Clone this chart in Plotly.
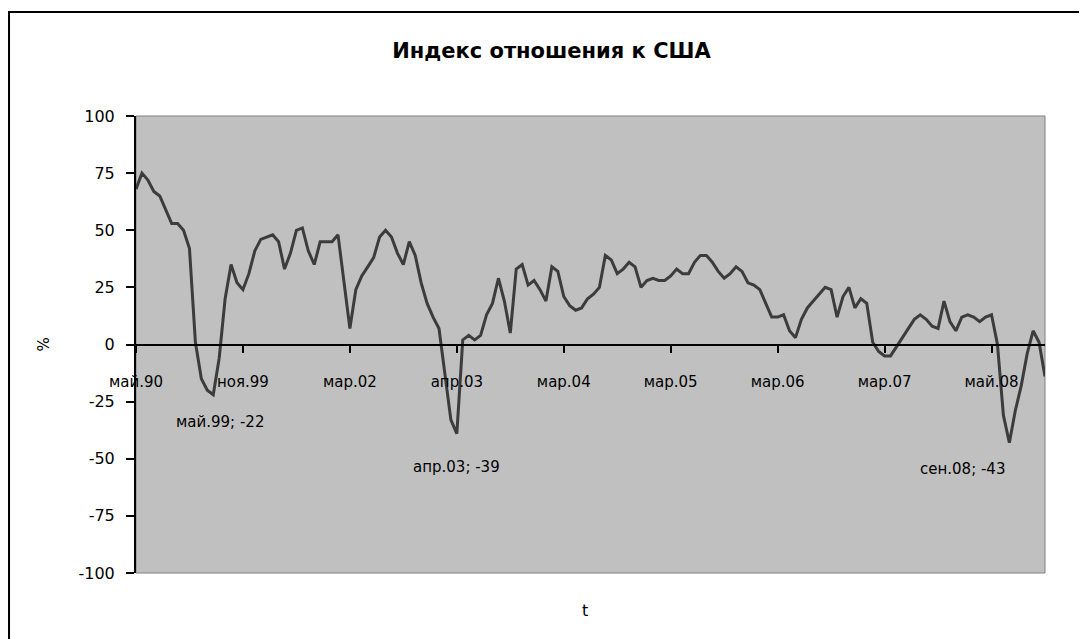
import plotly.graph_objects as go

# ---- data ----
values = [
    68, 75, 72, 67, 65, 59, 53, 53, 50, 42, 1, -15, -20, -22, -6, 20, 35, 27,
    24, 31, 41, 46, 47, 48, 45, 33, 40, 50, 51, 41, 35, 45, 45, 45, 48, 27,
    7, 24, 30, 34, 38, 47, 50, 47, 40, 35, 45, 39, 27, 18, 12, 7, -14, -33,
    -39, 2, 4, 2, 4, 13, 18, 29, 19, 5, 33, 35, 26, 28, 24, 19, 34, 32,
    21, 17, 15, 16, 20, 22, 25, 39, 37, 31, 33, 36, 34, 25, 28, 29, 28, 28,
    30, 33, 31, 31, 36, 39, 39, 36, 32, 29, 31, 34, 32, 27, 26, 24, 18, 12,
    12, 13, 6, 3, 11, 16, 19, 22, 25, 24, 12, 21, 25, 16, 20, 18, 1, -3,
    -5, -5, -1, 3, 7, 11, 13, 11, 8, 7, 19, 10, 6, 12, 13, 12, 10, 12,
    13, 0, -31, -43, -29, -18, -4, 6, 1, -14,
]
categories = list(range(len(values)))

tick_labels = ["май.90", "ноя.99", "мар.02", "апр.03", "мар.04",
               "мар.05", "мар.06", "мар.07", "май.08"]
tick_step = 18
tick_positions = [i * tick_step for i in range(len(tick_labels))]

y_tick_values = [-100, -75, -50, -25, 0, 25, 50, 75, 100]
y_tick_labels = ["-100", "-75", "-50", "-25", "0", "25", "50", "75", "100"]

label_names = ["май.99", "апр.03", "сен.08"]
label_index = [13, 54, 147]

title_text = "Индекс отношения к США"
y_title = "%"
x_title = "t"

# ---- styling ----
FONT = "DejaVu Sans"
LINE_COLOR = "#3c3c3c"
PLOT_BG = "#c0c0c0"

fig = go.Figure()
fig.add_trace(go.Scatter(
    x=categories, y=values, mode="lines",
    line=dict(color=LINE_COLOR, width=3),
    showlegend=False, hoverinfo="skip",
))

# data labels (offsets are style, not data)
label_offsets = [(7, -16), (0, -22), (-47, -15)]
annotations = []
for name, idx, (dx, dy) in zip(label_names, label_index, label_offsets):
    annotations.append(dict(
        x=idx, y=values[idx], xref="x", yref="y",
        text=f"{name}; {values[idx]}", showarrow=False,
        xanchor="center", yanchor="top", xshift=dx, yshift=dy,
        font=dict(family=FONT, size=15, color="#000000"),
    ))

# axis titles
annotations.append(dict(
    x=-0.1023, y=0.5, xref="paper", yref="paper", text=y_title,
    showarrow=False, textangle=-90, xanchor="center", yanchor="middle",
    font=dict(family=FONT, size=15, color="#000000"),
))
annotations.append(dict(
    x=0.4935, y=-0.082, xref="paper", yref="paper", text=x_title,
    showarrow=False, xanchor="center", yanchor="middle",
    font=dict(family=FONT, size=16, color="#000000"),
))

shapes = [
    # plot area background & border
    dict(type="rect", xref="paper", yref="paper", x0=0, y0=0, x1=1, y1=1,
         fillcolor=PLOT_BG, line=dict(color="#808080", width=1), layer="below"),
    # chart frame
    dict(type="rect", xref="paper", yref="paper",
         x0=-0.1397, y0=-0.175, x1=1.058, y1=1.2276,
         fillcolor="rgba(0,0,0,0)", line=dict(color="#000000", width=2),
         layer="below"),
]

common_x = dict(
    range=[0, len(values) - 1],
    anchor="free", position=0.5,
    tickmode="array", tickvals=tick_positions,
    showgrid=False, zeroline=False,
    tickwidth=1.5, tickcolor="#000000",
)

fig.update_layout(
    width=1087, height=639,
    margin=dict(l=128, r=50, t=108, b=74),
    paper_bgcolor="#ffffff",
    plot_bgcolor="rgba(0,0,0,0)",
    title=dict(text=title_text, x=0.5, xanchor="center", y=0.934,
               yanchor="middle",
               font=dict(family=FONT, size=21, color="#000000", weight="bold")),
    annotations=annotations,
    shapes=shapes,
    xaxis=dict(
        **common_x,
        ticktext=tick_labels,
        showline=True, linecolor="#000000", linewidth=2,
        ticks="outside", ticklen=7,
        ticklabelstandoff=16,
        tickfont=dict(family=FONT, size=15, color="#000000"),
    ),
    # second copy of the category axis: upper half of the crossing tick marks
    xaxis2=dict(
        **common_x,
        overlaying="x", matches="x",
        ticktext=tick_labels,
        showline=False, ticks="inside", ticklen=5, showticklabels=False,
    ),
    yaxis=dict(
        range=[-100, 100],
        tickmode="array", tickvals=y_tick_values, ticktext=y_tick_labels,
        showline=True, linecolor="#000000", linewidth=2,
        ticks="outside", ticklen=8, tickwidth=1.5, tickcolor="#000000",
        ticklabelstandoff=8,
        showgrid=False, zeroline=False,
        tickfont=dict(family=FONT, size=16, color="#000000"),
    ),
)

fig.write_html("out.html")
